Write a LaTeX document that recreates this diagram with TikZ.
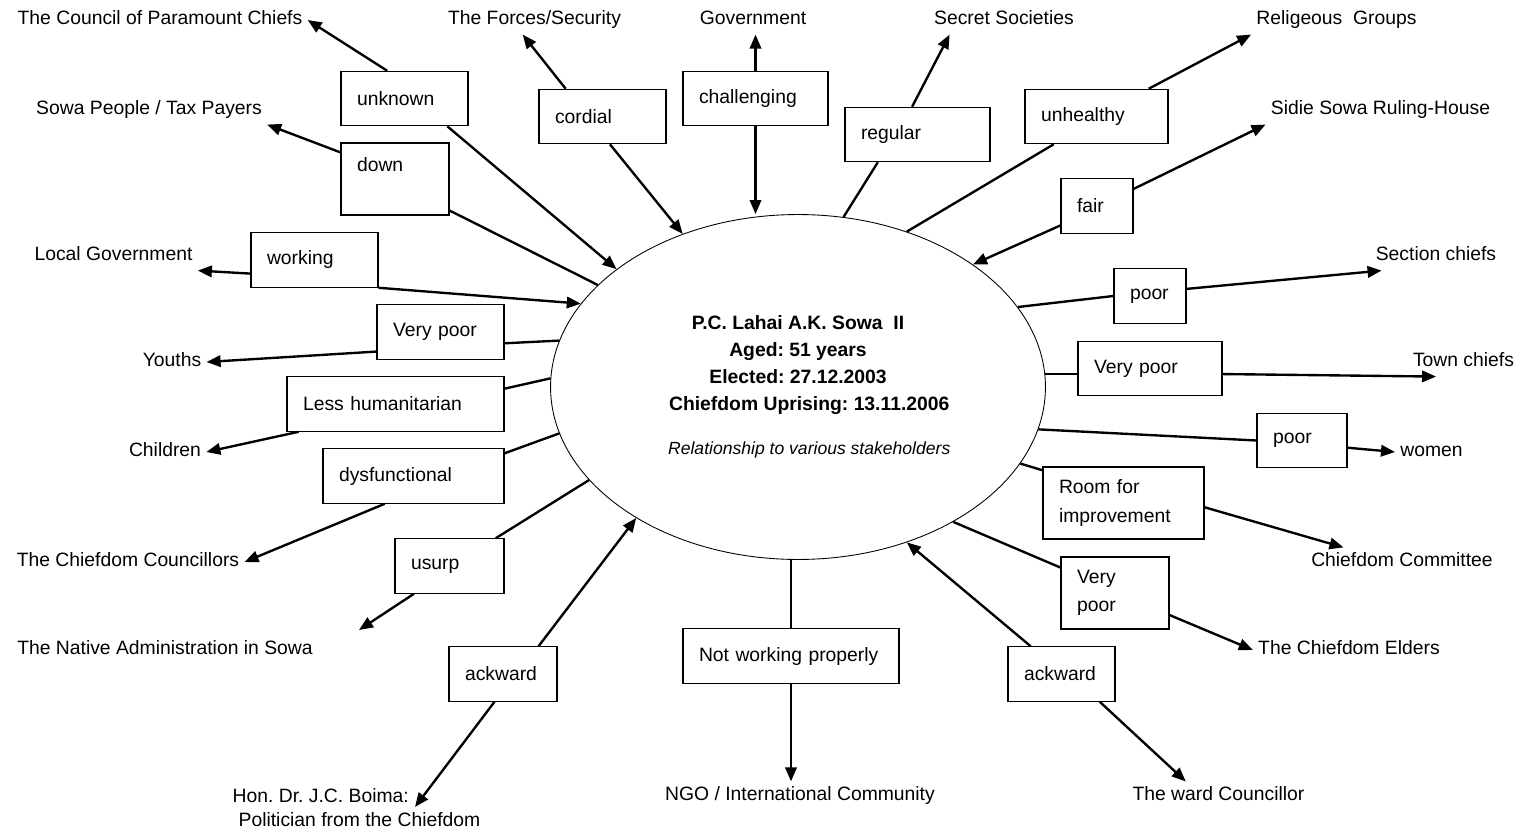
\documentclass[tikz,border=0pt]{standalone}
\usepackage{fontspec}
\setmainfont{Liberation Sans}
\usetikzlibrary{shapes.geometric, arrows.meta}
\frenchspacing

\begin{document}
\begin{tikzpicture}[x=0.02cm, y=-0.02cm, % 1 unit = 1 px of the sketch, y downwards
    every node/.style={font=\fontsize{11}{16}\selectfont}, % same font everywhere
    relbox/.style={draw, line width=0.6pt, align=left, inner xsep=0.32cm, inner ysep=0pt, minimum height=1.09cm},
    tallbox/.style={relbox, minimum height=1.44cm},
    who/.style={inner sep=0.1cm, text height=8pt, text depth=2.5pt},
    conn/.style={line width=1.35pt},
    arrw/.style={conn, -{Triangle[length=8pt, width=6.5pt]}}
  ]
  \useasboundingbox (0,0) rectangle (1526,835);

  % the chief in the middle
  \node[draw, ellipse, line width=0.5pt, minimum width=9.9cm, minimum height=6.9cm, inner sep=0pt,
        align=center, font=\fontsize{11}{15.3}\selectfont\bfseries] (chief) at (798,387)
    {P.C. Lahai A.K. Sowa\ \ II\\ Aged: 51 years\\ Elected: 27.12.2003\\
     \hspace*{0.45cm}Chiefdom Uprising: 13.11.2006\\[0.35cm]
     \hspace*{0.45cm}{\mdseries\itshape\fontsize{10}{12}\selectfont Relationship to various stakeholders}};

  % stakeholders
  \node[who] (council) at (160,20) {The Council of Paramount Chiefs};
  \node[who] (forces) at (534.5,20) {The Forces/Security};
  \node[who] (govt) at (753,20) {Government};
  \node[who] (secret) at (1004,20) {Secret Societies};
  \node[who] (relig) at (1336.5,20) {Religeous\ \ Groups};
  \node[who] (sowa) at (149,110) {Sowa People / Tax Payers};
  \node[who] (sidie) at (1380.5,110) {Sidie Sowa Ruling-House};
  \node[who] (localgov) at (113.5,256) {Local Government};
  \node[who] (section) at (1436,256) {Section chiefs};
  \node[who] (youths) at (172,362) {Youths};
  \node[who] (town) at (1463.5,362) {Town chiefs};
  \node[who] (children) at (165,452) {Children};
  \node[who] (women) at (1431.5,452) {women};
  \node[who] (councillors) at (128,562) {The Chiefdom Councillors};
  \node[who] (committee) at (1402,562) {Chiefdom Committee};
  \node[who] (native) at (165,650) {The Native Administration in Sowa};
  \node[who] (elders) at (1349,650) {The Chiefdom Elders};
  \node[align=left, inner sep=0.1cm, font=\fontsize{11}{14}\selectfont] (hon) at (356.5,807.5)
    {Hon. Dr. J.C. Boima:\\\hspace*{0.12cm}Politician from the Chiefdom};
  \node[who] (ngo) at (800,796) {NGO / International Community};
  \node[who] (ward) at (1218.5,796) {The ward Councillor};

  % free arrow ends
  \coordinate (native-tip) at (359,630);
  \coordinate (hon-tip) at (415,807);

  % relationship boxes
  \node[relbox, text width=1.90cm] (unknown) at (404.5,98.5) {unknown};
  \node[tallbox, text width=1.52cm] (down) at (395,179) {down\\~};
  \node[relbox, text width=1.90cm] (working) at (314.5,260) {working};
  \node[relbox, text width=1.90cm] (vpoorY) at (440.5,332) {Very poor};
  \node[relbox, text width=3.70cm] (lesshum) at (395.5,404) {Less humanitarian};
  \node[relbox, text width=2.98cm] (dysf) at (413.5,476) {dysfunctional};
  \node[relbox, text width=1.54cm] (usurp) at (449.5,566) {usurp};
  \node[relbox, text width=1.52cm] (ackL) at (503,674) {ackward};
  \node[relbox, text width=3.68cm] (notwork) at (791,656) {Not working properly};
  \node[relbox, text width=1.50cm] (ackR) at (1061.5,674) {ackward};
  \node[tallbox, text width=1.52cm] (vpoorE) at (1115,593) {Very\\poor};
  \node[tallbox, text width=2.58cm] (room) at (1123.5,503) {Room for\\improvement};
  \node[relbox, text width=1.16cm] (poorW) at (1302,440.5) {poor};
  \node[relbox, text width=2.24cm] (vpoorT) at (1150,368.5) {Very poor};
  \node[relbox, text width=0.80cm] (poorS) at (1150,296) {poor};
  \node[relbox, text width=0.80cm] (fair) at (1097,206) {fair};
  \node[relbox, text width=2.22cm] (unhealthy) at (1096.5,116.5) {unhealthy};
  \node[relbox, text width=2.26cm] (regular) at (917.5,134.5) {regular};
  \node[relbox, text width=2.26cm] (challenging) at (755.5,98.5) {challenging};
  \node[relbox, text width=1.90cm] (cordial) at (602.5,116.5) {cordial};

  % left side
  \draw[arrw] (unknown.122) -- (council.east);
  \draw[arrw] (unknown.-33) -- (chief.147);
  \draw[arrw] (down.154) -- (sowa.south east);
  \draw[conn] (down.-30) -- (chief.153);
  \draw[arrw] (working.192) -- (localgov.south east);
  \draw[arrw] (working.south east) -- (chief.159);
  \draw[arrw] (vpoorY.197) -- (youths.east);
  \draw[conn] (vpoorY.-10) -- (chief.169);
  \draw[arrw] (lesshum.196) -- (children.east);
  \draw[conn] (lesshum.8) -- (chief.178);
  \draw[arrw] (dysf.224) -- (councillors.east);
  \draw[conn] (dysf.14) -- (chief.191);
  \draw[conn] (chief.204) -- (usurp.31);
  \draw[arrw] (usurp.218) -- (native-tip);
  \draw[arrw] (ackL.38) -- (chief.219);
  \draw[arrw] (ackL.253) -- (hon-tip);

  % bottom
  \draw[conn] (chief.south -| notwork.north) -- (notwork.north);
  \draw[arrw] (notwork.south) -- (notwork.south |- ngo.north);
  \draw[arrw] (ackR.138) -- (chief.-55);
  \draw[arrw] (ackR.-36) -- (ward.156);

  % right side
  \draw[conn] (chief.-41) -- (vpoorE.155);
  \draw[arrw] (vpoorE.-22) -- (elders.west);
  \draw[conn] (chief.-19) -- (room.158);
  \draw[arrw] (room.-3) -- (committee.166);
  \draw[conn] (chief.-10) -- (poorW.west);
  \draw[arrw] (poorW.-9) -- (women.west);
  \draw[conn] (chief.3) -- (chief.3 -| vpoorT.west);
  \draw[arrw] (vpoorT.east |- chief.3) -- (town.208);
  \draw[conn] (chief.20) -- (poorS.west);
  \draw[arrw] (poorS.11) -- (section.195);
  \draw[arrw] (fair.25) -- (sidie.south west);
  \draw[arrw] (fair.208) -- (chief.35);
  \draw[conn] (chief.55) -- (unhealthy.213);
  \draw[arrw] (unhealthy.28) -- (relig.south west);

  % top
  \draw[arrw] (regular.101) -- (secret.195);
  \draw[conn] (regular.215) -- (chief.75);
  \draw[arrw] (challenging.north) -- (challenging.north |- govt.south);
  \draw[arrw] (challenging.south) -- (challenging.south |- chief.north);
  \draw[arrw] (cordial.143) -- (forces.231);
  \draw[arrw] (cordial.-75) -- (chief.127);
\end{tikzpicture}
\end{document}
